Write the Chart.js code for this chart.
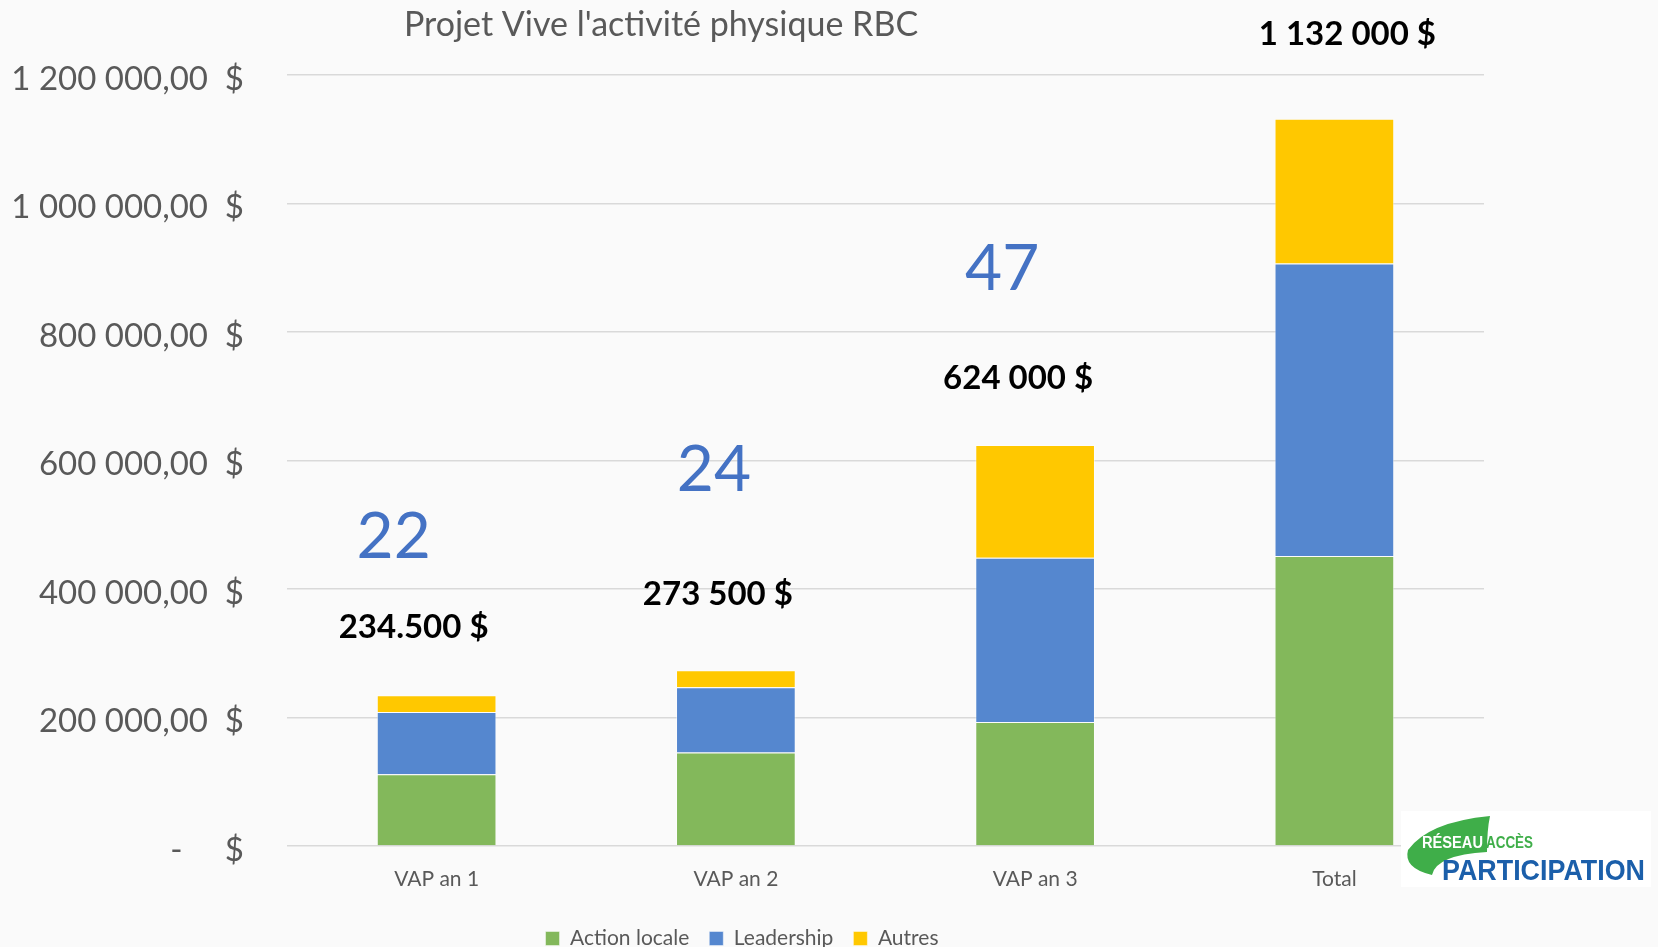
<!DOCTYPE html>
<html>
<head>
<meta charset="utf-8">
<script src="https://cdn.jsdelivr.net/npm/chart.js@4.4.0/dist/chart.umd.min.js"></script>
<style>
  html, body { margin: 0; padding: 0; background: #fafafa; }
  #wrap { width: 1658px; height: 947px; position: relative; }
</style>
</head>
<body>
<div id="wrap"><canvas id="chart1"></canvas></div>
<script>
const categories = ['VAP an 1', 'VAP an 2', 'VAP an 3', 'Total'];
const actionLocale = [111700, 145500, 193000, 451500];
const leadership = [97000, 101700, 255600, 455000];
const autres = [25800, 26300, 175400, 225500];
const totalLabels = ['234.500 $', '273 500 $', '624 000 $', '1 132 000 $'];
const countLabels = ['22', '24', '47', ''];
const yTicks = [0, 200000, 400000, 600000, 800000, 1000000, 1200000];
const yTickLabels = ['-     $', '200 000,00  $', '400 000,00  $', '600 000,00  $', '800 000,00  $', '1 000 000,00  $', '1 200 000,00  $'];
const chartTitle = "Projet Vive l'activité physique RBC";

const grey = '#595959';

// text boxes placed by hand in the original, offsets from the top of each bar
const totalDx = [-23, -18, -17, 13];
const totalDy = [-57, -65, -56, -74];
const countDx = [-43, -22, -33, 0];
const countDy = [-137, -179, -155, 0];

const extras = {
    id: 'extras',
    beforeDraw(chart) {
        const ctx = chart.ctx;
        ctx.save();
        ctx.fillStyle = '#fafafa';
        ctx.fillRect(0, 0, chart.width, chart.height);
        ctx.restore();
    },
    afterDatasetsDraw(chart) {
        const ctx = chart.ctx;
        const xs = chart.scales.x, ys = chart.scales.y;
        ctx.save();
        // title
        ctx.fillStyle = grey;
        ctx.font = '34px Lato';
        ctx.textAlign = 'center';
        ctx.textBaseline = 'alphabetic';
        ctx.fillText(chartTitle, 661, 36);

        categories.forEach((c, i) => {
            const total = actionLocale[i] + leadership[i] + autres[i];
            const cx = xs.getPixelForValue(i);
            const top = ys.getPixelForValue(total);
            ctx.fillStyle = '#000000';
            ctx.font = 'bold 33px Lato';
            ctx.fillText(totalLabels[i], cx + totalDx[i], top + totalDy[i]);
            if (countLabels[i]) {
                ctx.fillStyle = '#4472c4';
                ctx.font = '64px Lato';
                ctx.fillText(countLabels[i], cx + countDx[i], top + countDy[i]);
            }
        });

        // logo Réseau Accès Participation
        ctx.fillStyle = '#ffffff';
        ctx.fillRect(1401, 811, 250, 76);
        ctx.fillStyle = '#3fae49';
        ctx.beginPath();
        ctx.moveTo(1490, 816);
        ctx.quadraticCurveTo(1428, 822, 1408, 850);
        ctx.quadraticCurveTo(1403, 868, 1432, 875);
        ctx.quadraticCurveTo(1436, 855, 1487, 852);
        ctx.quadraticCurveTo(1487, 830, 1490, 816);
        ctx.closePath();
        ctx.fill();
        ctx.textAlign = 'left';
        ctx.font = 'bold 16px "Liberation Sans"';
        ctx.fillStyle = '#ffffff';
        ctx.fillText('RÉSEAU', 1422, 848, 61);
        ctx.fillStyle = '#3fae49';
        ctx.fillText('ACCÈS', 1486, 848, 47);
        ctx.fillStyle = '#1b5faa';
        ctx.font = 'bold 30px "Liberation Sans"';
        ctx.fillText('PARTICIPATION', 1442, 880, 203);
        ctx.restore();
    }
};

const ctx1 = document.getElementById('chart1').getContext('2d');
new Chart(ctx1, {
    type: 'bar',
    data: {
        labels: categories,
        datasets: [
            { label: 'Action locale', data: actionLocale, backgroundColor: '#83b85b', borderColor: 'rgba(255,255,255,0.45)', borderWidth: 1 },
            { label: 'Leadership', data: leadership, backgroundColor: '#5587cf', borderColor: 'rgba(255,255,255,0.45)', borderWidth: 1 },
            { label: 'Autres', data: autres, backgroundColor: '#ffc800', borderColor: 'rgba(255,255,255,0.45)', borderWidth: 1 }
        ]
    },
    options: {
        responsive: true,
        maintainAspectRatio: false,
        animation: false,
        layout: { padding: { left: 0, right: 174, top: 75, bottom: -12 } },
        datasets: { bar: { categoryPercentage: 0.8, barPercentage: 0.5 } },
        plugins: {
            title: { display: false },
            tooltip: { enabled: false },
            legend: {
                position: 'bottom',
                labels: {
                    font: { family: 'Lato', size: 21 },
                    color: grey,
                    boxWidth: 14,
                    boxHeight: 14,
                    padding: 20
                }
            }
        },
        scales: {
            x: {
                stacked: true,
                grid: { display: false, drawTicks: false },
                border: { display: false },
                ticks: { font: { family: 'Lato', size: 21 }, color: grey, padding: 21 },
                afterFit: s => { s.height = 62; }
            },
            y: {
                stacked: true,
                min: 0,
                max: 1200000,
                grid: { color: '#d9d9d9', lineWidth: 1.5, drawTicks: false },
                border: { display: false },
                afterBuildTicks: s => { s.ticks = yTicks.map(v => ({ value: v })); },
                ticks: {
                    font: { family: 'Lato', size: 33 },
                    color: grey,
                    padding: 43,
                    labelOffset: 4,
                    callback: (v, i) => yTickLabels[i]
                },
                afterFit: s => { s.width = 287; }
            }
        }
    },
    plugins: [extras]
});
</script>
</body>
</html>
